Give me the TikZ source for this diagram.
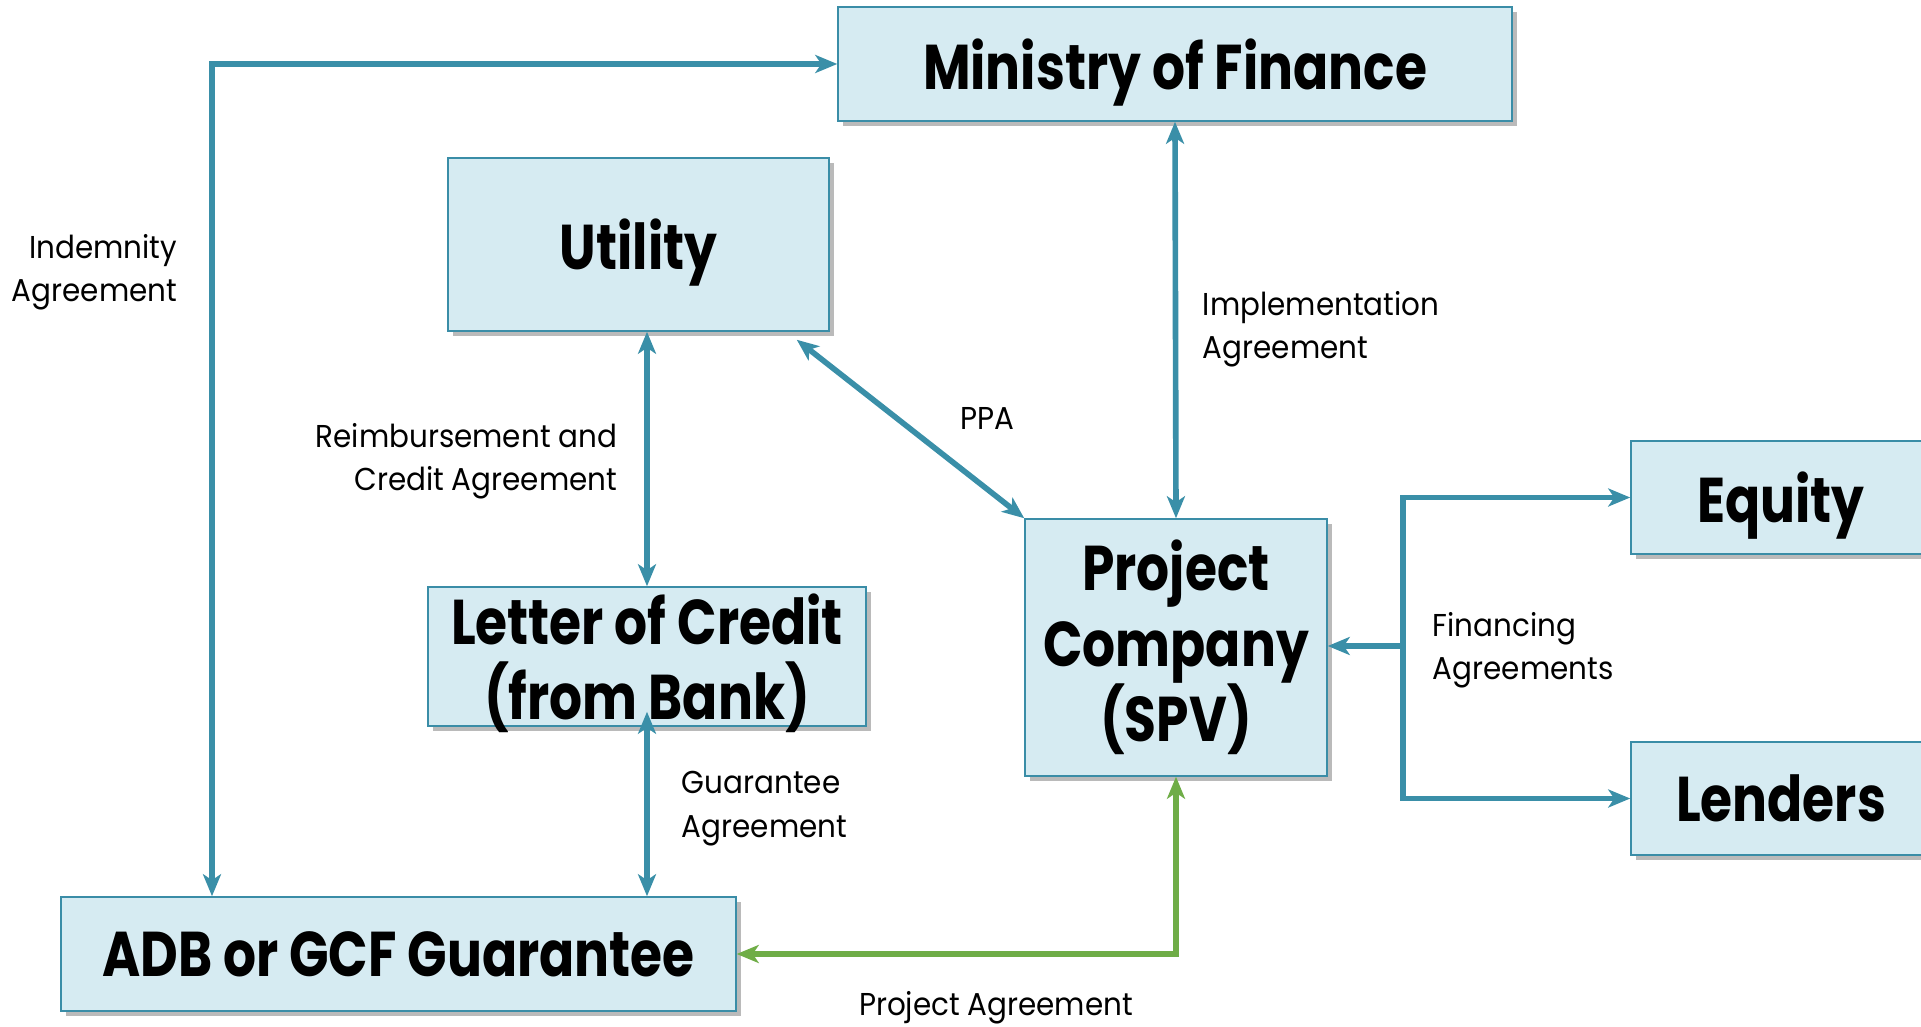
\documentclass[tikz,border=0pt]{standalone}
\usepackage{fontspec}
\setmainfont{Poppins}[FakeStretch=0.93]
\newfontfamily\boxfont{Poppins}[FakeStretch=0.82]
\usetikzlibrary{arrows.meta, positioning, shadows, calc}
\definecolor{boxfill}{HTML}{D6EBF2}
\definecolor{boxline}{HTML}{3A8DA7}
\definecolor{linkteal}{HTML}{3A8FA8}
\definecolor{linkgreen}{HTML}{6FAD47}

\begin{document}
\begin{tikzpicture}[x=0.02cm, y=-0.02cm, >={Stealth[length=0.44cm,width=0.36cm,inset=0.12cm]},
        party/.style={draw=boxline, line width=0.9pt, fill=boxfill, align=center, inner sep=0pt,
            drop shadow={shadow xshift=0.1cm, shadow yshift=-0.1cm, fill=black!60, opacity=0.45},
            font=\boxfont\bfseries\fontsize{36}{43}\selectfont},
        flat/.style={text depth=0pt},
        deal/.style={inner sep=0.5mm, text depth=0pt, font=\fontsize{18}{25}\selectfont},
        link/.style={draw=linkteal, line width=3.2pt},
        greenlink/.style={draw=linkgreen, line width=3.2pt}]
        \useasboundingbox (0,0) rectangle (1921,1027);
        % boxes
        \node[party, flat, minimum width=13.48cm, minimum height=2.28cm] (mof) at (1175,64) {Ministry of Finance};
        \node[party, flat, minimum width=7.62cm, minimum height=3.46cm] (util) at (638.5,244.5) {Utility};
        \node[party, flat, minimum width=8.76cm, minimum height=2.78cm] (loc) at (647,656.5) {Letter of Credit\\(from Bank)};
        \node[party, minimum width=6.04cm, minimum height=5.14cm] (spv) at (1176,647.5) {Project\\Company\\(SPV)};
        \node[party, flat, minimum width=6cm, minimum height=2.26cm] (eq) at (1781,497.5) {Equity};
        \node[party, flat, minimum width=6cm, minimum height=2.26cm] (len) at (1781,798.5) {Lenders};
        \node[party, minimum width=13.5cm, minimum height=2.28cm] (adb) at (398.5,954) {ADB or GCF Guarantee};
        % agreements
        \node[deal, anchor=east, align=right] (ind) at (180,268) {Indemnity\\Agreement};
        \node[deal, anchor=east, align=right] (rca) at (620,457) {Reimbursement and\\Credit Agreement};
        \node[deal, anchor=west, align=left] (impl) at (1200,325) {Implementation\\Agreement};
        \node[deal] (ppa) at (987,418) {PPA};
        \node[deal, anchor=west, align=left] (ga) at (679,804) {Guarantee\\Agreement};
        \node[deal, anchor=west, align=left] (fa) at (1430,646) {Financing\\Agreements};
        \node[deal] (pa) at (996,1003) {Project Agreement};
        \coordinate (indc) at (212,64);
        \coordinate (finc) at (1403,646);
        % connectors
        \draw[link, <->] (adb.north -| indc) -- (indc) -- (mof.west);
        \draw[link, <->] (mof.south) -- (spv.north);
        \draw[link, <->] (loc.north |- util.south) -- (loc.north);
        \draw[link, <->] (loc.south |- adb.north) -- ([yshift=0.3cm]loc.south);
        \draw[link, <->] ([xshift=-0.66cm, yshift=-0.16cm]util.south east) -- (spv.north west);
        \draw[link, <->] (eq.west) -- (eq.west -| finc) -- (len.west -| finc) -- (len.west);
        \draw[link, ->] (finc) -- (finc -| spv.east);
        \draw[greenlink, <->] (spv.south) |- (adb.east);
\end{tikzpicture}
\end{document}
